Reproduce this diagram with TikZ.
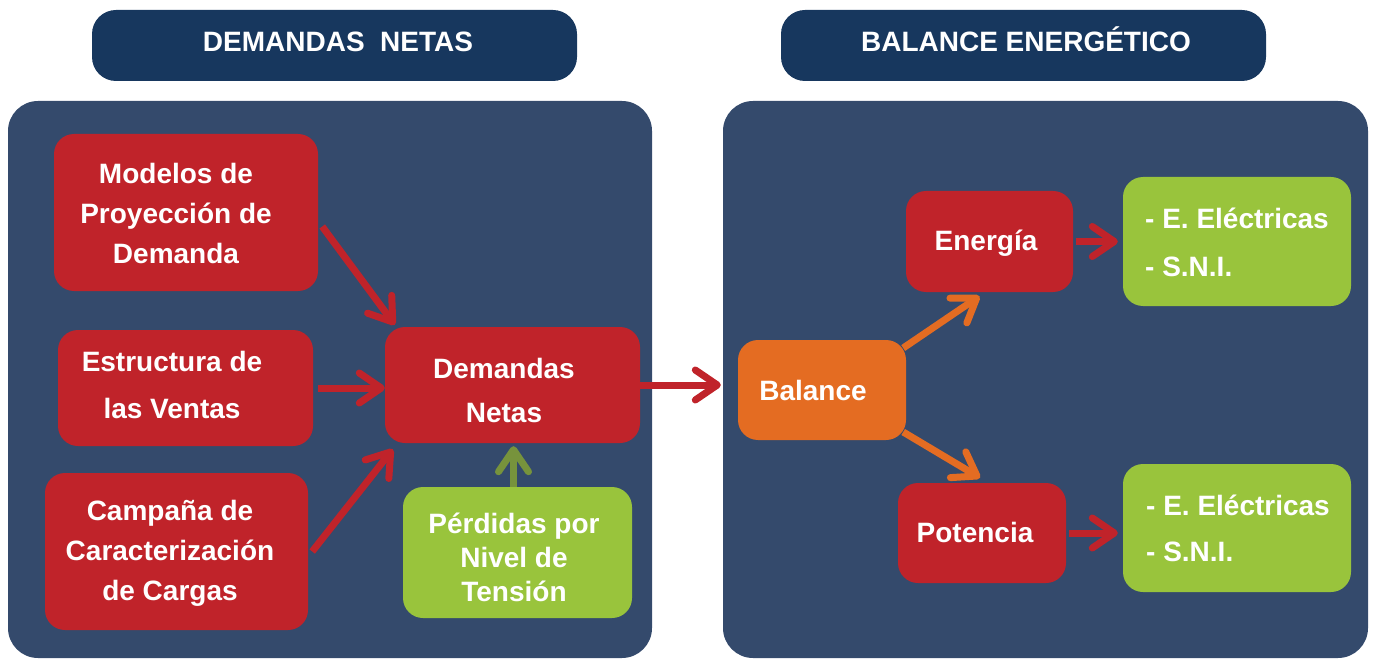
\documentclass[tikz,border=0pt]{standalone}
\usepackage{fontspec}
\setmainfont{Liberation Sans}
\usetikzlibrary{arrows.meta}
\definecolor{navy}{HTML}{17375E}
\definecolor{panel}{HTML}{344A6C}
\definecolor{boxred}{HTML}{C0232A}
\definecolor{boxgreen}{HTML}{99C43C}
\definecolor{boxorange}{HTML}{E46C22}
\definecolor{arrgreen}{HTML}{77933C}
\begin{document}
\begin{tikzpicture}[x=1pt,y=-1pt,
  font=\fontsize{28}{40}\selectfont\bfseries,
  header/.style={fill=navy, rounded corners=24pt, minimum width=485pt, minimum height=71pt, inner sep=0pt, text=white},
  panelbox/.style={fill=panel, rounded corners=30pt, inner sep=0pt},
  rbox/.style={fill=boxred, rounded corners=20pt, inner sep=0pt},
  gbox/.style={fill=boxgreen, rounded corners=20pt, inner sep=0pt},
  obox/.style={fill=boxorange, rounded corners=20pt, inner sep=0pt},
  txt/.style={text=white, align=center, inner sep=0pt},
  ltxt/.style={text=white, align=left, inner sep=0pt},
  arr/.style={line width=7pt, -{Straight Barb[round, length=22pt, width=30pt]}},
  redarr/.style={arr, draw=boxred},
  orarr/.style={arr, draw=boxorange},
  grarr/.style={arr, draw=arrgreen}
]
\useasboundingbox (0,0) rectangle (1375,660);
% headers
\node[header] (h1) at (334.5,45.5) {};
\node[txt, anchor=base] (th1) at (338,52) {DEMANDAS\ \ NETAS};
\node[header] (h2) at (1023.5,45.5) {};
\node[txt, anchor=base] (th2) at (1026,52) {BALANCE ENERGÉTICO};
% panels
\node[panelbox, minimum width=644pt, minimum height=557pt] (pl) at (330,379.5) {};
\node[panelbox, minimum width=645pt, minimum height=557pt] (pr) at (1045.5,379.5) {};
% left boxes
\node[rbox, minimum width=264pt, minimum height=157pt] (mod) at (186,212.5) {};
\node[txt] (tmod) at (176,213) {Modelos de\\Proyección de\\Demanda};
\node[rbox, minimum width=255pt, minimum height=116pt] (est) at (185.5,388) {};
\node[txt, font=\fontsize{28}{47}\selectfont\bfseries] (test) at (172,385) {Estructura de\\las Ventas};
\node[rbox, minimum width=263pt, minimum height=157pt] (cam) at (176.5,551.5) {};
\node[txt] (tcam) at (170,553) {Campaña de\\Caracterización\\de Cargas};
\node[rbox, minimum width=255pt, minimum height=116pt] (dem) at (512.5,385) {};
\node[txt, font=\fontsize{28}{44}\selectfont\bfseries] (tdem) at (504,390) {Demandas\\Netas};
\node[gbox, minimum width=229pt, minimum height=131pt] (per) at (517.5,552.5) {};
\node[txt, font=\fontsize{28}{34}\selectfont\bfseries] (tper) at (514,557) {Pérdidas por\\Nivel de\\Tensión};
% right boxes
\node[obox, minimum width=168pt, minimum height=100pt] (bal) at (822,390) {};
\node[txt] (tbal) at (813,390) {Balance};
\node[rbox, minimum width=167pt, minimum height=101pt] (ene) at (989.5,241.5) {};
\node[txt] (tene) at (986,243) {Energía};
\node[rbox, minimum width=168pt, minimum height=100pt] (pot) at (982,533) {};
\node[txt] (tpot) at (975,532) {Potencia};
\node[gbox, minimum width=228pt, minimum height=129pt] (g1) at (1237,241.5) {};
\node[ltxt, font=\fontsize{28}{48}\selectfont\bfseries] (tg1) at (1237,242) {- E. Eléctricas\\- S.N.I.};
\node[gbox, minimum width=228pt, minimum height=128pt] (g2) at (1237,528) {};
\node[ltxt, font=\fontsize{28}{46}\selectfont\bfseries] (tg2) at (1238,528) {- E. Eléctricas\\- S.N.I.};
% arrows
\draw[redarr] ([xshift=4pt,yshift=-14pt]mod.east) -- ([xshift=10pt,yshift=2pt]dem.north west);
\draw[redarr] ([xshift=5pt,yshift=0pt]est.east) -- ([yshift=0pt]est.east -| dem.west);
\draw[redarr] ([xshift=4pt,yshift=0pt]cam.east) -- ([xshift=8pt,yshift=-6pt]dem.south west);
\draw[grarr] ([xshift=-4pt]per.north) -- ([xshift=-4pt,yshift=-3pt]per.north |- dem.south);
\draw[redarr] (dem.east) -- ([xshift=-2pt]dem.east -| pr.west);
\draw[orarr] ([xshift=-3pt,yshift=42pt]bal.east) -- ([xshift=-10pt,yshift=-4pt]ene.south);
\draw[orarr] ([xshift=-3pt,yshift=-42pt]bal.east) -- ([xshift=-2pt,yshift=5pt]pot.north);
\draw[redarr] ([xshift=3pt]ene.east) -- ([xshift=-5pt]ene.east -| g1.west);
\draw[redarr] ([xshift=3pt]pot.east) -- ([xshift=-5pt]pot.east -| g2.west);
\end{tikzpicture}
\end{document}
